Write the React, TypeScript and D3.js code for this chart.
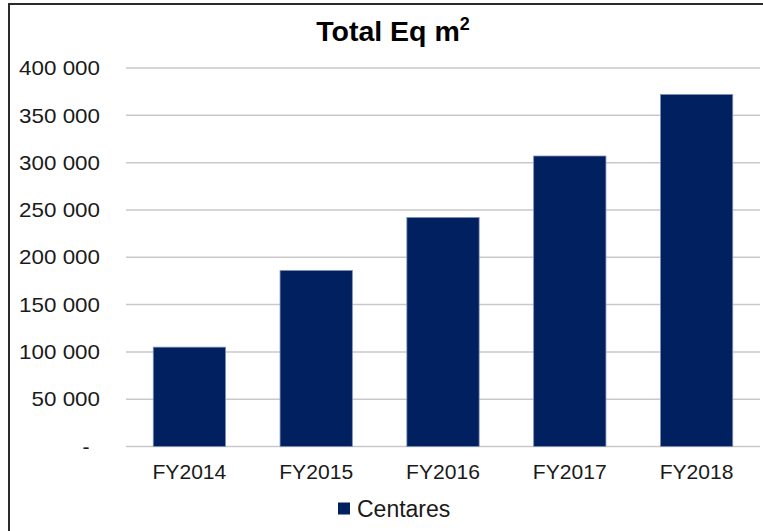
import React from "react";
import * as d3 from "d3";

const categories = ["FY2014", "FY2015", "FY2016", "FY2017", "FY2018"];
const centares = [105000, 186000, 242000, 307000, 372000];
const yTicks = [0, 50000, 100000, 150000, 200000, 250000, 300000, 350000, 400000];
const seriesName = "Centares";
const titleMain = "Total Eq m";
const titleSup = "2";

const W = 763;
const H = 531;
const FONT = "'Liberation Sans', Arial, sans-serif";

export default function App() {
  const x = d3.scaleBand<string>().domain(categories).range([126, 760]).paddingInner(0.43).paddingOuter(0.215);
  const y = d3.scaleLinear().domain([0, 400000]).range([446.5, 68]);
  const fmt = (v: number) => d3.format(",")(v).replace(/,/g, " ");

  return (
    <svg width={W} height={H} style={{ position: "absolute", left: 0, top: 0, background: "#fff" }}>
      <rect x={0} y={0} width={W} height={H} fill="#fff" />
      {/* chart border */}
      <line x1={9} y1={4} x2={W} y2={4} stroke="#2b2b2b" strokeWidth={2} />
      <line x1={9} y1={3} x2={9} y2={H} stroke="#2b2b2b" strokeWidth={2} />

      <text x={393} y={41} textAnchor="middle" fontFamily={FONT} fontWeight="bold" fontSize={28.5} fill="#000">
        {titleMain}
        <tspan fontSize={18} dy={-11}>{titleSup}</tspan>
      </text>

      {yTicks.map((t) => (
        <g key={t}>
          <line x1={126} x2={760} y1={y(t)} y2={y(t)} stroke="#c9c9c9" strokeWidth={1.5} />
          {t === 0 ? (
            <text x={86} y={y(t)} dy="0.36em" textAnchor="middle" fontFamily={FONT} fontSize={21} fill="#1a1a1a">
              -
            </text>
          ) : (
            <text
              x={100}
              y={y(t)}
              dy="0.36em"
              textAnchor="end"
              fontFamily={FONT}
              fontSize={20}
              fill="#1a1a1a"
              transform={`translate(100,0) scale(1.12,1) translate(-100,0)`}
            >
              {fmt(t)}
            </text>
          )}
        </g>
      ))}

      {categories.map((c, i) => {
        const cx = x(c)! + x.bandwidth() / 2;
        return (
          <g key={c}>
            <rect
              x={x(c)!}
              y={y(centares[i])}
              width={x.bandwidth()}
              height={y(0) - y(centares[i])}
              fill="#002060"
              stroke="#7f8fb5"
              strokeWidth={0.8}
            />
            <text
              x={cx}
              y={472}
              dy="0.36em"
              textAnchor="middle"
              fontFamily={FONT}
              fontSize={20.5}
              fill="#1a1a1a"
              transform={`translate(${cx},0) scale(1.03,1) translate(${-cx},0)`}
            >
              {c}
            </text>
          </g>
        );
      })}

      <rect x={338} y={502.5} width={12} height={12} fill="#002060" />
      <text x={357} y={508.5} dy="0.36em" fontFamily={FONT} fontSize={23} fill="#1a1a1a">
        {seriesName}
      </text>
    </svg>
  );
}
